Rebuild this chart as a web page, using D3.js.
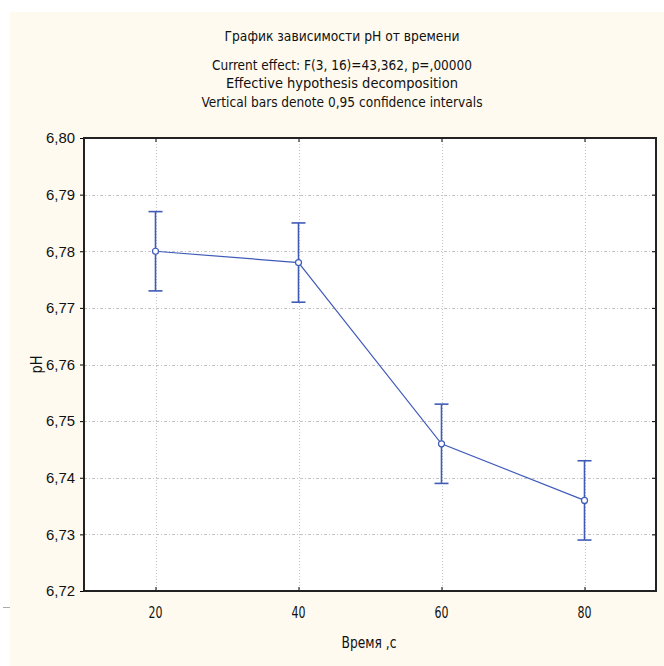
<!DOCTYPE html>
<html>
<head>
<meta charset="utf-8">
<script src="https://cdn.jsdelivr.net/npm/d3@7"></script>
<style>
  body { margin: 0; background: #ffffff; }
  text { font-family: "DejaVu Sans Condensed", "Liberation Sans Narrow", "Liberation Sans", sans-serif; fill: #111; }
</style>
</head>
<body>
<script>
    // data
    var times = [20, 40, 60, 80]
    var means = [6.780, 6.778, 6.746, 6.736]
    var lower = [6.773, 6.771, 6.739, 6.729]
    var upper = [6.787, 6.785, 6.753, 6.743]
    var yTicks = [6.72, 6.73, 6.74, 6.75, 6.76, 6.77, 6.78, 6.79, 6.80]
    var xTicks = [20, 40, 60, 80]
    var titleLines = [
        "График зависимости pH от времени",
        "Current effect: F(3, 16)=43,362, p=,00000",
        "Effective hypothesis decomposition",
        "Vertical bars denote 0,95 confidence intervals"
    ]

    var W = 664, H = 666
    var plot = {left: 84, top: 138, right: 656, bottom: 591}
    var blue = "#3f5bb8"

    var svg = d3.select("body").append("svg")
        .attr("width", W)
        .attr("height", H)

    // cream panel
    svg.append("rect")
        .attr("x", 10).attr("y", 12)
        .attr("width", W - 10).attr("height", H - 12)
        .attr("fill", "#fefaf0")
    svg.append("line")
        .attr("x1", 3).attr("x2", 10).attr("y1", 607.5).attr("y2", 607.5)
        .attr("stroke", "#aaa")

    var x = d3.scaleLinear().domain([10, 90]).range([plot.left, plot.right])
    var y = d3.scaleLinear().domain([6.72, 6.80]).range([plot.bottom, plot.top])

    svg.append("rect")
        .attr("x", plot.left).attr("y", plot.top)
        .attr("width", plot.right - plot.left).attr("height", plot.bottom - plot.top)
        .attr("fill", "white")

    // grid
    var grid = svg.append("g").attr("stroke", "#c4c4c4").attr("stroke-width", 1)
        .attr("stroke-dasharray", "3,2,1,2")
    grid.selectAll(".hg").data(yTicks.slice(1, -1)).enter().append("line")
        .attr("x1", plot.left).attr("x2", plot.right)
        .attr("y1", function (d) { return Math.round(y(d)) + 0.5 })
        .attr("y2", function (d) { return Math.round(y(d)) + 0.5 })
    grid.selectAll(".vg").data(xTicks).enter().append("line")
        .attr("stroke-dasharray", "1,2")
        .attr("y1", plot.top).attr("y2", plot.bottom)
        .attr("x1", function (d) { return Math.round(x(d)) + 0.5 })
        .attr("x2", function (d) { return Math.round(x(d)) + 0.5 })

    // axes
    var yAxis = d3.axisLeft(y).tickValues(yTicks).tickSize(4).tickPadding(5)
        .tickFormat(function (d) { return d3.format(".2f")(d).replace(".", ",") })
    var gy = svg.append("g").attr("transform", "translate(" + plot.left + ",0)").call(yAxis)
    gy.select(".domain").remove()
    gy.selectAll("text").attr("font-size", 15).style("font-family", "inherit")
        .attr("textLength", 29).attr("lengthAdjust", "spacingAndGlyphs")

    var gyR = svg.append("g").attr("transform", "translate(" + plot.right + ",0)")
        .call(d3.axisLeft(y).tickValues(yTicks).tickSize(4).tickFormat(""))
    gyR.select(".domain").remove()

    var xAxis = d3.axisTop(x).tickValues(xTicks).tickSize(4).tickFormat("")
    var gx = svg.append("g").attr("transform", "translate(0," + plot.bottom + ")").call(xAxis)
    gx.select(".domain").remove()
    var gxT = svg.append("g").attr("transform", "translate(0," + plot.top + ")")
        .call(d3.axisBottom(x).tickValues(xTicks).tickSize(4).tickFormat(""))
    gxT.select(".domain").remove()

    svg.selectAll(".xl").data(xTicks).enter().append("text")
        .attr("x", function (d) { return x(d) })
        .attr("y", 618)
        .attr("text-anchor", "middle")
        .attr("font-size", 15)
        .attr("textLength", 14).attr("lengthAdjust", "spacingAndGlyphs")
        .text(function (d) { return d })

    // frame
    svg.append("rect")
        .attr("x", plot.left).attr("y", plot.top)
        .attr("width", plot.right - plot.left).attr("height", plot.bottom - plot.top)
        .attr("fill", "none").attr("stroke", "#222").attr("stroke-width", 2)

    // titles
    var titleY = [41, 70, 88, 107]
    var titleW = [235, 260, 232, 281]
    svg.selectAll(".title").data(titleLines).enter().append("text")
        .attr("x", 342)
        .attr("y", function (d, i) { return titleY[i] })
        .attr("text-anchor", "middle")
        .attr("font-size", 14)
        .attr("textLength", function (d, i) { return titleW[i] })
        .attr("lengthAdjust", "spacingAndGlyphs")
        .text(function (d) { return d })

    svg.append("text")
        .attr("x", 369).attr("y", 648)
        .attr("text-anchor", "middle")
        .attr("font-size", 15)
        .attr("textLength", 55).attr("lengthAdjust", "spacingAndGlyphs")
        .text("Время ,с")

    svg.append("text")
        .attr("transform", "translate(42," + y(6.76) + ") rotate(-90)")
        .attr("text-anchor", "middle")
        .attr("font-size", 15)
        .attr("textLength", 18).attr("lengthAdjust", "spacingAndGlyphs")
        .text("pH")

    // series
    var pts = times.map(function (t, i) { return {t: t, m: means[i], lo: lower[i], hi: upper[i]} })

    var line = d3.line().x(function (d) { return x(d.t) }).y(function (d) { return y(d.m) })
    svg.append("path").datum(pts)
        .attr("d", line)
        .attr("fill", "none").attr("stroke", blue).attr("stroke-width", 1.2)

    var bars = svg.selectAll(".ci").data(pts).enter().append("g")
        .attr("stroke", blue).attr("stroke-width", 1.6)
    bars.append("line")
        .attr("x1", function (d) { return x(d.t) }).attr("x2", function (d) { return x(d.t) })
        .attr("y1", function (d) { return y(d.lo) }).attr("y2", function (d) { return y(d.hi) })
    bars.append("line")
        .attr("x1", function (d) { return x(d.t) - 7 }).attr("x2", function (d) { return x(d.t) + 7 })
        .attr("y1", function (d) { return y(d.hi) }).attr("y2", function (d) { return y(d.hi) })
    bars.append("line")
        .attr("x1", function (d) { return x(d.t) - 7 }).attr("x2", function (d) { return x(d.t) + 7 })
        .attr("y1", function (d) { return y(d.lo) }).attr("y2", function (d) { return y(d.lo) })

    svg.selectAll(".pt").data(pts).enter().append("circle")
        .attr("cx", function (d) { return x(d.t) })
        .attr("cy", function (d) { return y(d.m) })
        .attr("r", 3)
        .attr("fill", "white").attr("stroke", blue).attr("stroke-width", 1.2)
</script>
</body>
</html>
